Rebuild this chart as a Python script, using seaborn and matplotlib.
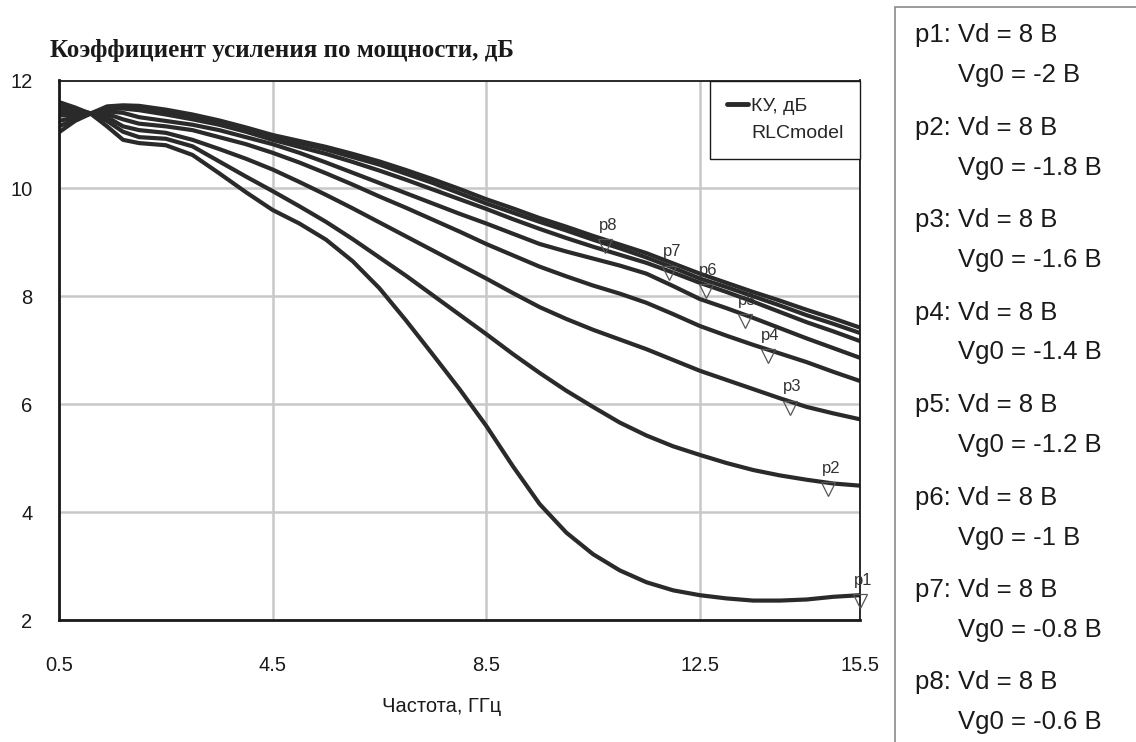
import numpy as np
import pandas as pd
import matplotlib
matplotlib.use('Agg')
import matplotlib.pyplot as plt
import matplotlib.transforms as mtransforms
from matplotlib.lines import Line2D
from matplotlib.patches import Rectangle
import seaborn as sns

# frequency grid, GHz
freq = [0.5, 0.8, 1.1, 1.4, 1.7, 2.0, 2.5, 3.0, 3.5, 4.0, 4.5, 5.0, 5.5, 6.0,
        6.5, 7.0, 7.5, 8.0, 8.5, 9.0, 9.5, 10.0, 10.5, 11.0, 11.5, 12.0, 12.5,
        13.0, 13.5, 14.0, 14.5, 15.0, 15.5]

# power gain, dB
p1 = [11.60, 11.50, 11.38, 11.15, 10.90, 10.84, 10.80, 10.62, 10.28, 9.93, 9.60,
      9.35, 9.05, 8.65, 8.15, 7.55, 6.92, 6.28, 5.60, 4.85, 4.15, 3.62, 3.22,
      2.92, 2.70, 2.55, 2.46, 2.40, 2.36, 2.36, 2.38, 2.43, 2.46]
p2 = [11.55, 11.47, 11.39, 11.25, 11.05, 10.95, 10.92, 10.78, 10.50, 10.22, 9.95,
      9.67, 9.38, 9.06, 8.72, 8.38, 8.02, 7.66, 7.30, 6.93, 6.58, 6.25, 5.95,
      5.66, 5.42, 5.22, 5.06, 4.91, 4.78, 4.68, 4.60, 4.53, 4.49]
p3 = [11.50, 11.44, 11.39, 11.32, 11.15, 11.08, 11.03, 10.90, 10.73, 10.55, 10.35,
      10.12, 9.88, 9.63, 9.37, 9.11, 8.85, 8.59, 8.33, 8.06, 7.80, 7.58, 7.38,
      7.20, 7.02, 6.82, 6.62, 6.45, 6.28, 6.11, 5.95, 5.83, 5.72]
p4 = [11.42, 11.40, 11.39, 11.38, 11.28, 11.20, 11.15, 11.08, 10.95, 10.82, 10.66,
      10.48, 10.28, 10.07, 9.85, 9.64, 9.42, 9.20, 8.97, 8.76, 8.55, 8.37, 8.20,
      8.05, 7.88, 7.67, 7.45, 7.27, 7.10, 6.94, 6.78, 6.60, 6.43]
p5 = [11.35, 11.37, 11.39, 11.43, 11.40, 11.32, 11.25, 11.18, 11.08, 10.95, 10.82,
      10.66, 10.48, 10.29, 10.10, 9.91, 9.72, 9.53, 9.35, 9.16, 8.97, 8.83, 8.70,
      8.57, 8.42, 8.19, 7.95, 7.78, 7.60, 7.41, 7.22, 7.04, 6.86]
p6 = [11.25, 11.32, 11.39, 11.47, 11.48, 11.45, 11.37, 11.28, 11.18, 11.05, 10.90,
      10.77, 10.64, 10.49, 10.33, 10.16, 9.98, 9.80, 9.62, 9.43, 9.25, 9.08, 8.92,
      8.77, 8.62, 8.44, 8.25, 8.08, 7.90, 7.71, 7.52, 7.35, 7.17]
p7 = [11.15, 11.28, 11.39, 11.50, 11.52, 11.50, 11.42, 11.33, 11.22, 11.10, 10.95,
      10.84, 10.72, 10.58, 10.44, 10.27, 10.10, 9.91, 9.72, 9.55, 9.38, 9.22, 9.05,
      8.89, 8.72, 8.53, 8.33, 8.17, 8.00, 7.83, 7.65, 7.49, 7.32]
p8 = [11.04, 11.25, 11.39, 11.52, 11.54, 11.53, 11.46, 11.37, 11.26, 11.13, 10.99,
      10.88, 10.77, 10.64, 10.50, 10.34, 10.17, 9.99, 9.80, 9.63, 9.45, 9.29, 9.12,
      8.96, 8.80, 8.61, 8.42, 8.25, 8.08, 7.92, 7.75, 7.59, 7.42]

curve_names = ['p1', 'p2', 'p3', 'p4', 'p5', 'p6', 'p7', 'p8']
curves = [p1, p2, p3, p4, p5, p6, p7, p8]
# where the triangle markers sit (GHz)
marker_freq = [15.5, 14.91, 14.18, 13.77, 13.34, 12.61, 11.93, 10.73]
vg0 = ['-2', '-1.8', '-1.6', '-1.4', '-1.2', '-1', '-0.8', '-0.6']

xticks = [0.5, 4.5, 8.5, 12.5, 15.5]
yticks = [2, 4, 6, 8, 10, 12]

df = pd.DataFrame({
    'freq': np.tile(freq, len(curves)),
    'gain': np.concatenate(curves),
    'curve': np.repeat(curve_names, len(freq)),
})

sns.set_theme(style='white')
plt.rcParams['font.family'] = ['Liberation Sans', 'DejaVu Sans']

line_color = '#2a2a2a'
fig = plt.figure(figsize=(11.36, 7.42), dpi=100)
ax = fig.add_axes([59 / 1136, 1 - 620 / 742, 801 / 1136, 539.5 / 742])

sns.lineplot(data=df, x='freq', y='gain', units='curve', estimator=None,
             color=line_color, lw=3, ax=ax, legend=False, sort=False)

# markers hanging below the curve + labels
mk_tr = mtransforms.offset_copy(ax.transData, fig=fig, y=-4.5, units='points')
for name, c, mf in zip(curve_names, curves, marker_freq):
    gv = np.interp(mf, freq, c)
    ax.plot(mf, gv, marker='v', ms=9.5, mfc='none', mec='#555555', mew=0.9,
            transform=mk_tr, clip_on=False, zorder=5)
    ax.annotate(name, (mf, gv), xytext=(2, 5), textcoords='offset points',
                ha='center', va='bottom', fontsize=12, color='#333333',
                annotation_clip=False)

ax.set_xlim(0.5, 15.5)
ax.set_ylim(2, 12)
ax.set_xticks(xticks)
ax.set_xticklabels([str(t) for t in xticks])
ax.set_yticks(yticks)
ax.grid(True, color='#c8c8c8', lw=1.8)
ax.tick_params(axis='both', length=0, labelsize=14.5, colors='#1a1a1a')
ax.tick_params(axis='x', pad=26)
ax.tick_params(axis='y', pad=19)
for s in ['top', 'right']:
    ax.spines[s].set_color('#1a1a1a')
    ax.spines[s].set_linewidth(1.3)
for s in ['left', 'bottom']:
    ax.spines[s].set_color('#1a1a1a')
    ax.spines[s].set_linewidth(2.0)

ax.set_xlabel('Частота, ГГц', fontsize=14.5, color='#1a1a1a')
ax.set_ylabel('')
ax.xaxis.set_label_coords(0.478, -0.143)

handles = [Line2D([0], [0], color=line_color, lw=3.5),
           Line2D([0], [0], color='none', lw=0)]
leg = ax.legend(handles, ['КУ, дБ', 'RLCmodel'], loc='upper right',
                frameon=True, fancybox=False, borderaxespad=0,
                handlelength=1.1, handletextpad=0.15, labelspacing=0.5,
                fontsize=14, borderpad=0.85)
leg.get_frame().set_edgecolor('#1a1a1a')
leg.get_frame().set_linewidth(1.0)
leg.get_frame().set_facecolor('white')
leg.get_frame().set_alpha(1)

fig.text(50 / 1136, 1 - 51 / 742, 'Коэффициент усиления по мощности, дБ',
         family=['Liberation Serif', 'DejaVu Serif'], fontweight='bold',
         fontsize=18, color='#1a1a1a', ha='left', va='center')

# side panel with bias conditions
fig.patches.append(Rectangle((895 / 1136, -0.02), 0.5, 1.02 - 7 / 742,
                             transform=fig.transFigure, fill=False,
                             edgecolor='#8a8a8a', lw=1.2))
for i, (name, v) in enumerate(zip(curve_names, vg0)):
    y0 = 35 + 92.5 * i
    fig.text(915 / 1136, 1 - y0 / 742, f'{name}: Vd = 8 В', fontsize=18.5,
             color='#1a1a1a', ha='left', va='center')
    fig.text(958 / 1136, 1 - (y0 + 40) / 742, f'Vg0 = {v} В', fontsize=18.5,
             color='#1a1a1a', ha='left', va='center')

fig.savefig('out.png', dpi=100)
